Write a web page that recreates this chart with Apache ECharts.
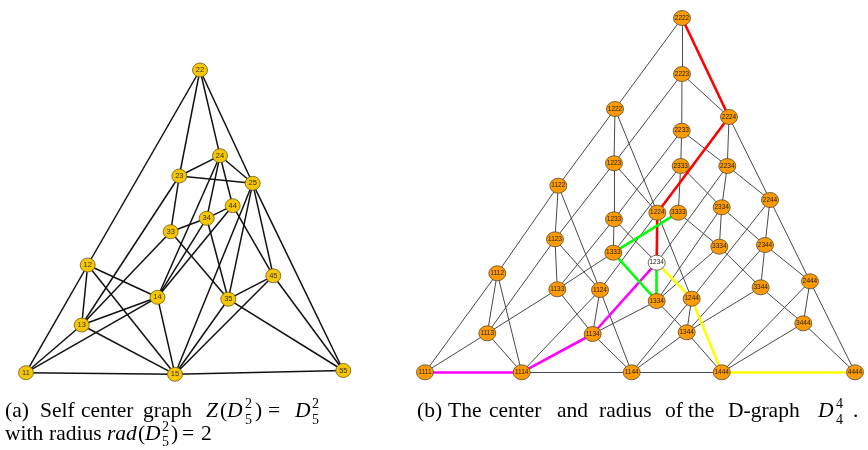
<!DOCTYPE html>
<html><head><meta charset="utf-8">
<script src="https://cdn.jsdelivr.net/npm/echarts@6/dist/echarts.min.js"></script>
<style>html,body{margin:0;padding:0;background:#fff}#c{width:868px;height:450px}</style>
</head><body><div id="c"></div><script>
// ---- Left graph: Z(D_5^2) ----
const leftNames = ['11','12','13','14','15','22','23','24','25','33','34','35','44','45','55'];
const leftX = [26, 87.7, 81.7, 157.5, 175, 200, 179.3, 220, 252.7, 170.7, 206.7, 228.3, 232.7, 273.3, 343.3];
const leftY = [372.7, 265, 325, 297.3, 374.3, 70, 176, 155.7, 183.3, 231.7, 218.3, 299.2, 205.7, 275.8, 370.5];
const leftEdges = [
  ['11','12'],['11','13'],['11','14'],['11','15'],
  ['12','13'],['12','14'],['12','15'],['12','22'],
  ['13','14'],['13','15'],['13','23'],['13','33'],
  ['14','15'],['14','24'],['14','34'],['14','44'],
  ['15','25'],['15','35'],['15','45'],['15','55'],
  ['22','23'],['22','24'],['22','25'],
  ['23','24'],['23','25'],['23','33'],
  ['24','25'],['24','34'],['24','44'],
  ['25','35'],['25','45'],['25','55'],
  ['33','34'],['33','35'],
  ['34','35'],['34','44'],
  ['35','45'],['35','55'],
  ['44','45'],['45','55']
];
// ---- Right graph: D_4^4 ----
const rightNames = ['1111','1112','1113','1114','1122','1123','1124','1133','1134','1144',
  '1222','1223','1224','1233','1234','1244','1333','1334','1344','1444',
  '2222','2223','2224','2233','2234','2244','2333','2334','2344','2444',
  '3333','3334','3344','3444','4444'];
const rightX = [425, 497.3, 487.3, 521.7, 558.3, 555, 600, 557.3, 592.7, 631.7,
  615, 614, 657.3, 614, 656.7, 691.7, 613.3, 656.7, 686.7, 721.7,
  682, 682, 729, 681.7, 727.3, 770, 680.7, 721.7, 765, 810,
  678.3, 719.3, 760.7, 803.3, 855];
const rightY = [372.3, 273.3, 333.3, 372.3, 185.7, 239.3, 290, 289.3, 334, 372.3,
  109, 163.3, 212.7, 219.3, 262.7, 298.7, 252.7, 301, 332.3, 372.3,
  18, 74, 117, 130.7, 166, 200, 166, 207.3, 245, 281.3,
  212.7, 246.7, 287.3, 323.3, 372.3];
const rightEdges = [
  ['1111','1112'],['1111','1113'],['1111','1114'],
  ['1112','1122'],['1112','1113'],['1112','1114'],
  ['1113','1123'],['1113','1133'],['1113','1114'],
  ['1114','1124'],['1114','1134'],['1114','1144'],
  ['1122','1222'],['1122','1123'],['1122','1124'],
  ['1123','1223'],['1123','1133'],['1123','1124'],
  ['1124','1224'],['1124','1134'],['1124','1144'],
  ['1133','1233'],['1133','1333'],['1133','1134'],
  ['1134','1234'],['1134','1334'],['1134','1144'],
  ['1144','1244'],['1144','1344'],['1144','1444'],
  ['1222','2222'],['1222','1223'],['1222','1224'],
  ['1223','2223'],['1223','1233'],['1223','1224'],
  ['1224','2224'],['1224','1234'],['1224','1244'],
  ['1233','2233'],['1233','1333'],['1233','1234'],
  ['1234','2234'],['1234','1334'],['1234','1244'],
  ['1244','2244'],['1244','1344'],['1244','1444'],
  ['1333','2333'],['1333','3333'],['1333','1334'],
  ['1334','2334'],['1334','3334'],['1334','1344'],
  ['1344','2344'],['1344','3344'],['1344','1444'],
  ['1444','2444'],['1444','3444'],['1444','4444'],
  ['2222','2223'],['2222','2224'],
  ['2223','2233'],['2223','2224'],
  ['2224','2234'],['2224','2244'],
  ['2233','2333'],['2233','2234'],
  ['2234','2334'],['2234','2244'],
  ['2244','2344'],['2244','2444'],
  ['2333','3333'],['2333','2334'],
  ['2334','3334'],['2334','2344'],
  ['2344','3344'],['2344','2444'],
  ['2444','3444'],['2444','4444'],
  ['3333','3334'],['3334','3344'],['3344','3444'],['3444','4444']
];
const centerNode = '1234';
const paths = [
  {nodes: ['2222','2224','1224','1234'], color: '#ff0000'},
  {nodes: ['1234','1334','1333','3333'], color: '#00ff00'},
  {nodes: ['1234','1134','1114','1111'], color: '#ff00ff'},
  {nodes: ['1234','1244','1444','4444'], color: '#ffff00'}
];

const key = (a,b) => a < b ? a + '|' + b : b + '|' + a;
const colored = {};
paths.forEach(p => { for (let i = 0; i < p.nodes.length - 1; i++) colored[key(p.nodes[i], p.nodes[i+1])] = p.color; });

const leftData = leftNames.map((n,i) => ({name: n, value: [leftX[i], leftY[i]]}));
const leftLinks = leftEdges.map(e => ({source: e[0], target: e[1]}));

const rightData = rightNames.map((n,i) => ({
  name: n, value: [rightX[i], rightY[i]],
  itemStyle: n === centerNode ? {color: '#ffffff'} : undefined
}));
const greyLinks = [], colLinks = [];
rightEdges.forEach(e => {
  const c = colored[key(e[0], e[1])];
  if (c) colLinks.push({source: e[0], target: e[1], lineStyle: {color: c, width: 2.6, opacity: 1}});
  else greyLinks.push({source: e[0], target: e[1]});
});

const serif = '"Liberation Serif", "DejaVu Serif", serif';
function t(text, x, y, size, italic) {
  return {type: 'text', x: x, y: y, silent: true,
    style: {text: text, fill: '#000', fontSize: size, fontFamily: serif, fontStyle: italic ? 'italic' : 'normal', verticalAlign: 'middle', align: 'left'}};
}
const S = 21.5, s = 14;
const captions = [
  t('(a)', 5, 411, S), t('Self', 40, 411, S), t('center', 81, 411, S), t('graph', 143, 411, S),
  t('Z', 206, 411, S, true), t('(', 220, 411, S), t('D', 227, 411, S, true),
  t('2', 245, 404, s), t('5', 245, 420, s), t(')', 255, 411, S), t('=', 268, 411, S),
  t('D', 295, 411, S, true), t('2', 312, 404, s), t('5', 312, 420, s),
  t('with', 5, 434, S), t('radius', 49, 434, S), t('rad', 107, 434, S, true), t('(', 138, 434, S),
  t('D', 145, 434, S, true), t('2', 162, 427, s), t('5', 162, 442, s), t(')', 171, 434, S),
  t('=', 182, 434, S), t('2', 201, 434, S),
  t('(b)', 417, 411, S), t('The', 448, 411, S), t('center', 489, 411, S), t('and', 557, 411, S),
  t('radius', 599, 411, S), t('of', 665, 411, S), t('the', 688, 411, S), t('D-graph', 728, 411, S),
  t('D', 818, 411, S, true), t('4', 836, 404, s), t('4', 836, 420, s), t('.', 853, 411, S)
];

const chart = echarts.init(document.getElementById('c'), null, {renderer: 'canvas'});
chart.setOption({
  animation: false,
  backgroundColor: '#fff',
  grid: {left: 0, right: 0, top: 0, bottom: 0},
  xAxis: {type: 'value', min: 0, max: 868, show: false},
  yAxis: {type: 'value', min: 0, max: 450, inverse: true, show: false},
  graphic: captions,
  series: [
    {
      type: 'graph', coordinateSystem: 'cartesian2d', layout: 'none',
      symbol: 'circle', symbolSize: [15, 14],
      data: leftData, links: leftLinks,
      itemStyle: {color: '#f7c600', borderColor: '#6a5a20', borderWidth: 0.8},
      lineStyle: {color: '#111', width: 1.5, opacity: 1, curveness: 0},
      label: {show: true, position: 'inside', fontSize: 7.5, color: '#333', fontFamily: 'Liberation Sans, Arial'},
      emphasis: {disabled: true}
    },
    {
      type: 'graph', coordinateSystem: 'cartesian2d', layout: 'none',
      symbol: 'circle', symbolSize: [17, 15],
      data: rightData, links: greyLinks.concat(colLinks),
      itemStyle: {color: '#ff9a00', borderColor: '#5a4a30', borderWidth: 0.8},
      lineStyle: {color: '#4a4a4a', width: 1, opacity: 1, curveness: 0},
      label: {show: true, position: 'inside', fontSize: 6.5, color: '#222', fontFamily: 'Liberation Sans, Arial'},
      emphasis: {disabled: true}
    }
  ]
});
</script></body></html>
